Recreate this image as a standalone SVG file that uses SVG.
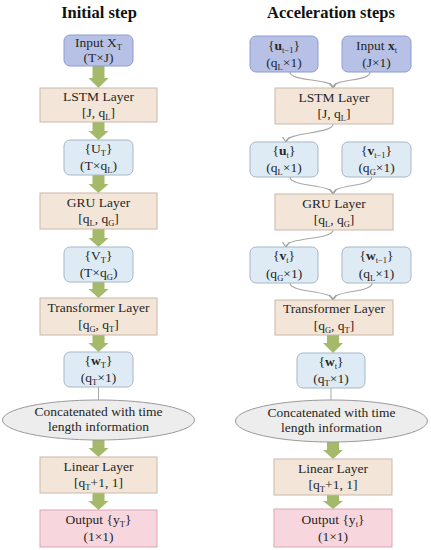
<svg xmlns="http://www.w3.org/2000/svg" width="431" height="550" viewBox="0 0 431 550">
<style>
text{font-family:"Liberation Serif","Times New Roman",serif;fill:#262626;font-size:13.5px;text-anchor:middle}
.title{font-weight:bold;font-size:16.5px;fill:#111}
.s{font-size:8.5px}
.b{font-weight:bold}
.inp{fill:#b7c1e6;stroke:#8e9cd0;stroke-width:1}
.vec{fill:#deebf4;stroke:#a5b7c6;stroke-width:1}
.lay{fill:#f3e6d9;stroke:#c9b9a9;stroke-width:1}
.out{fill:#f8d6de;stroke:#d8a8b4;stroke-width:1}
.ell{fill:#ededed;stroke:#9a9a9a;stroke-width:1}
.ga{fill:#a5b96a}
.cv{fill:none;stroke:#a8a8a8;stroke-width:1.2}
</style>
<defs>
<marker id="ah" markerWidth="8" markerHeight="8" refX="6" refY="4" orient="auto" markerUnits="userSpaceOnUse">
<path d="M1,0.5 L6,4 L1,7.5" fill="none" stroke="#a0a0a0" stroke-width="1.2"/>
</marker>
</defs>

<text class="title" x="99" y="18">Initial step</text>
<text class="title" x="331" y="18">Acceleration steps</text>

<g id="connectors">
<polygon class="ga" points="92.5,66 104.5,66 104.5,78 108.5,78 98.5,88 88.5,78 92.5,78"/>
<polygon class="ga" points="92.5,122 104.5,122 104.5,131 108.5,131 98.5,140 88.5,131 92.5,131"/>
<polygon class="ga" points="92.5,175 104.5,175 104.5,184 108.5,184 98.5,193 88.5,184 92.5,184"/>
<polygon class="ga" points="92.5,229 104.5,229 104.5,238 108.5,238 98.5,247 88.5,238 92.5,238"/>
<polygon class="ga" points="92.5,282 104.5,282 104.5,289 108.5,289 98.5,298 88.5,289 92.5,289"/>
<polygon class="ga" points="92.5,335 104.5,335 104.5,343 108.5,343 98.5,352 88.5,343 92.5,343"/>
<line x1="98.5" y1="387" x2="98.5" y2="400" stroke="#a8a8a8" stroke-width="1"/>
<polygon class="ga" points="92.5,440 104.5,440 104.5,448 108.5,448 98.5,457 88.5,448 92.5,448"/>
<polygon class="ga" points="92.5,493 104.5,493 104.5,501 108.5,501 98.5,510 88.5,501 92.5,501"/>

<path class="cv" d="M290,72 C290,82 333,78 333,88" marker-end="url(#ah)"/>
<path class="cv" d="M370,72 C370,82 333,78 333,88" marker-end="url(#ah)"/>
<path class="cv" d="M333,124 C333,134 286,132 286,142" marker-end="url(#ah)"/>
<path class="cv" d="M290,177 C290,187 333,184 333,194" marker-end="url(#ah)"/>
<path class="cv" d="M372,177 C372,187 333,184 333,194" marker-end="url(#ah)"/>
<path class="cv" d="M333,230 C333,240 286,237 286,247" marker-end="url(#ah)"/>
<path class="cv" d="M290,283 C290,293 333,290 333,300" marker-end="url(#ah)"/>
<path class="cv" d="M372,283 C372,293 333,290 333,300" marker-end="url(#ah)"/>
<polygon class="ga" points="327,335 339,335 339,343 343,343 333,353 323,343 327,343"/>
<line x1="331" y1="388" x2="331" y2="400" stroke="#a8a8a8" stroke-width="1"/>
<polygon class="ga" points="327,442 339,442 339,450 343,450 333,459 323,450 327,450"/>
<polygon class="ga" points="327,495 339,495 339,501 343,501 333,509 323,501 327,501"/>
</g>

<!-- Left column -->
<g id="L_input">
<rect class="inp" x="64" y="35" width="69" height="31" rx="6"/>
<text x="98.5" y="47">Input X<tspan class="s" dy="2.5">T</tspan></text>
<text x="98.5" y="62">(T×J)</text>
</g>
<g id="L_lstm">
<rect class="lay" x="40" y="88" width="117" height="34"/>
<text x="98.5" y="101">LSTM Layer</text>
<text x="98.5" y="117">[J, q<tspan class="s" dy="2.5">L</tspan><tspan dy="-2.5">]</tspan></text>
</g>
<g id="L_U">
<rect class="vec" x="64" y="140" width="69" height="35" rx="6"/>
<text x="98.5" y="153">{U<tspan class="s" dy="2.5">T</tspan><tspan dy="-2.5">}</tspan></text>
<text x="98.5" y="170">(T×q<tspan class="s" dy="2.5">L</tspan><tspan dy="-2.5">)</tspan></text>
</g>
<g id="L_gru">
<rect class="lay" x="40" y="193" width="117" height="36"/>
<text x="98.5" y="207">GRU Layer</text>
<text x="98.5" y="223">[q<tspan class="s" dy="2.5">L</tspan><tspan dy="-2.5">, q</tspan><tspan class="s" dy="2.5">G</tspan><tspan dy="-2.5">]</tspan></text>
</g>
<g id="L_V">
<rect class="vec" x="64" y="247" width="69" height="35" rx="6"/>
<text x="98.5" y="260">{V<tspan class="s" dy="2.5">T</tspan><tspan dy="-2.5">}</tspan></text>
<text x="98.5" y="277">(T×q<tspan class="s" dy="2.5">G</tspan><tspan dy="-2.5">)</tspan></text>
</g>
<g id="L_trans">
<rect class="lay" x="40" y="298" width="117" height="37"/>
<text x="98.5" y="312">Transformer Layer</text>
<text x="98.5" y="329">[q<tspan class="s" dy="2.5">G</tspan><tspan dy="-2.5">, q</tspan><tspan class="s" dy="2.5">T</tspan><tspan dy="-2.5">]</tspan></text>
</g>
<g id="L_w">
<rect class="vec" x="64" y="352" width="69" height="35" rx="6"/>
<text x="98.5" y="365">{<tspan class="b">w</tspan><tspan class="s" dy="2.5">T</tspan><tspan dy="-2.5">}</tspan></text>
<text x="98.5" y="382">(q<tspan class="s" dy="2.5">T</tspan><tspan dy="-2.5">×1)</tspan></text>
</g>
<g id="L_concat">
<ellipse class="ell" cx="98.5" cy="420" rx="96" ry="20"/>
<text x="98.5" y="416">Concatenated with time</text>
<text x="98.5" y="431">length information</text>
</g>
<g id="L_linear">
<rect class="lay" x="40" y="457" width="117" height="36"/>
<text x="98.5" y="471">Linear Layer</text>
<text x="98.5" y="487">[q<tspan class="s" dy="2.5">T</tspan><tspan dy="-2.5">+1, 1]</tspan></text>
</g>
<g id="L_output">
<rect class="out" x="40" y="510" width="117" height="37"/>
<text x="98.5" y="524">Output {y<tspan class="s" dy="2.5">T</tspan><tspan dy="-2.5">}</tspan></text>
<text x="98.5" y="541">(1×1)</text>
</g>

<!-- Right column -->
<g id="R_uprev">
<rect class="inp" x="250" y="36" width="68" height="36" rx="6"/>
<text x="284" y="50">{<tspan class="b">u</tspan><tspan class="s" dy="2.5">t−1</tspan><tspan dy="-2.5">}</tspan></text>
<text x="284" y="67">(q<tspan class="s" dy="2.5">L</tspan><tspan dy="-2.5">×1)</tspan></text>
</g>
<g id="R_input">
<rect class="inp" x="342" y="36" width="69" height="36" rx="6"/>
<text x="376.5" y="50">Input <tspan class="b">x</tspan><tspan class="s" dy="2.5">t</tspan></text>
<text x="376.5" y="67">(J×1)</text>
</g>
<g id="R_lstm">
<rect class="lay" x="275" y="88" width="118" height="36"/>
<text x="334" y="102">LSTM Layer</text>
<text x="334" y="118">[J, q<tspan class="s" dy="2.5">L</tspan><tspan dy="-2.5">]</tspan></text>
</g>
<g id="R_u">
<rect class="vec" x="250" y="142" width="68" height="35" rx="6"/>
<text x="284" y="155">{<tspan class="b">u</tspan><tspan class="s" dy="2.5">t</tspan><tspan dy="-2.5">}</tspan></text>
<text x="284" y="172">(q<tspan class="s" dy="2.5">L</tspan><tspan dy="-2.5">×1)</tspan></text>
</g>
<g id="R_vprev">
<rect class="vec" x="342" y="142" width="69" height="35" rx="6"/>
<text x="376.5" y="155">{<tspan class="b">v</tspan><tspan class="s" dy="2.5">t−1</tspan><tspan dy="-2.5">}</tspan></text>
<text x="376.5" y="172">(q<tspan class="s" dy="2.5">G</tspan><tspan dy="-2.5">×1)</tspan></text>
</g>
<g id="R_gru">
<rect class="lay" x="275" y="194" width="118" height="36"/>
<text x="334" y="208">GRU Layer</text>
<text x="334" y="224">[q<tspan class="s" dy="2.5">L</tspan><tspan dy="-2.5">, q</tspan><tspan class="s" dy="2.5">G</tspan><tspan dy="-2.5">]</tspan></text>
</g>
<g id="R_v">
<rect class="vec" x="250" y="247" width="68" height="36" rx="6"/>
<text x="284" y="260">{<tspan class="b">v</tspan><tspan class="s" dy="2.5">t</tspan><tspan dy="-2.5">}</tspan></text>
<text x="284" y="278">(q<tspan class="s" dy="2.5">G</tspan><tspan dy="-2.5">×1)</tspan></text>
</g>
<g id="R_wprev">
<rect class="vec" x="342" y="247" width="69" height="36" rx="6"/>
<text x="376.5" y="260">{<tspan class="b">w</tspan><tspan class="s" dy="2.5">t−1</tspan><tspan dy="-2.5">}</tspan></text>
<text x="376.5" y="278">(q<tspan class="s" dy="2.5">L</tspan><tspan dy="-2.5">×1)</tspan></text>
</g>
<g id="R_trans">
<rect class="lay" x="275" y="300" width="118" height="35"/>
<text x="334" y="313">Transformer Layer</text>
<text x="334" y="330">[q<tspan class="s" dy="2.5">G</tspan><tspan dy="-2.5">, q</tspan><tspan class="s" dy="2.5">T</tspan><tspan dy="-2.5">]</tspan></text>
</g>
<g id="R_w">
<rect class="vec" x="297" y="353" width="68" height="35" rx="6"/>
<text x="331" y="366">{<tspan class="b">w</tspan><tspan class="s" dy="2.5">t</tspan><tspan dy="-2.5">}</tspan></text>
<text x="331" y="383">(q<tspan class="s" dy="2.5">T</tspan><tspan dy="-2.5">×1)</tspan></text>
</g>
<g id="R_concat">
<ellipse class="ell" cx="331.5" cy="421" rx="96" ry="21"/>
<text x="331.5" y="417">Concatenated with time</text>
<text x="331.5" y="432">length information</text>
</g>
<g id="R_linear">
<rect class="lay" x="274" y="459" width="118" height="36"/>
<text x="333" y="473">Linear Layer</text>
<text x="333" y="489">[q<tspan class="s" dy="2.5">T</tspan><tspan dy="-2.5">+1, 1]</tspan></text>
</g>
<g id="R_output">
<rect class="out" x="274" y="509" width="118" height="38"/>
<text x="333" y="524">Output {y<tspan class="s" dy="2.5">t</tspan><tspan dy="-2.5">}</tspan></text>
<text x="333" y="541">(1×1)</text>
</g>
</svg>
